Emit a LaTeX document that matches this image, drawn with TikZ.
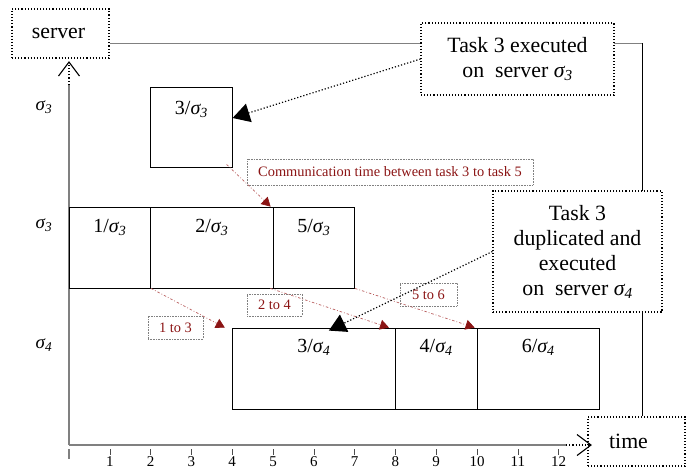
\documentclass[tikz,border=0pt]{standalone}
\usepackage{fontspec}
\setmainfont{Liberation Serif}
\usetikzlibrary{arrows.meta}
\definecolor{dred}{RGB}{139,20,20}
\definecolor{lred}{RGB}{185,95,95}
\definecolor{axgray}{RGB}{128,128,128}
\newcommand\sg[1]{\textit{σ\textsubscript{#1}}}
\newcommand\fbig{\fontsize{21.8}{25}\selectfont}
\newcommand\ftask{\fontsize{20}{22}\selectfont}
\begin{document}
\begin{tikzpicture}[x=1pt,y=-1pt,
  taskbox/.style={draw, line width=0.8pt, fill=white, inner sep=0pt},
  tlbl/.style={anchor=center, yshift=-21pt, font=\ftask, inner sep=0pt},
  annbox/.style={draw, dotted, line width=1.1pt, fill=white, inner sep=0pt, align=center, font=\fbig},
  redbox/.style={draw=axgray, densely dotted, line width=0.6pt, inner sep=0pt, text=dred, font=\fontsize{14.4}{16}\selectfont},
  comm/.style={lred, line width=0.7pt, dash pattern=on 2.5pt off 2pt on 0.8pt off 2pt, -{Triangle[length=9pt,width=10pt,color=dred]}},
  annarrow/.style={dotted, line width=1.2pt, -{Triangle[length=17pt,width=19pt]}},
  axlbl/.style={font=\fontsize{19}{20}\selectfont, inner sep=0pt},
  ticklbl/.style={font=\fontsize{15}{16}\selectfont, inner sep=0pt, anchor=base}
]
\useasboundingbox (0,0) rectangle (692,469);

% frame line from server box to time box
\node[annbox, minimum width=97, minimum height=49] (server) at (60.5,33.5) {server\hspace{4pt}};
\node[annbox, minimum width=97, minimum height=49] (timebox) at (636.5,441.5) {time\hspace{16pt}};
\coordinate (corner) at (642,43);
\draw[axgray, line width=1pt] ([yshift=-9.5pt]server.east) -- (corner);
\draw[line width=0.8pt] (corner) -- (corner |- timebox.north);

% axes
\coordinate (origin) at (69,445);
\coordinate (ymid) at (69,85);
\coordinate (ytop) at (69,62);
\coordinate (xmid) at (566,445);
\coordinate (xend) at (591,445);
\draw[axgray, line width=1.5pt] (origin) -- (ymid);
\draw[dotted, line width=1.2pt] (ymid) -- (ytop);
\draw[axgray, line width=1.5pt] (origin) -- (xmid);
\draw[dotted, line width=1.2pt] (xmid) -- (xend);
\draw[line width=1.1pt] ([shift={(-10.5,14)}]ytop) -- (ytop) -- ([shift={(10.5,14)}]ytop);
\draw[line width=1.1pt] ([shift={(-14,-10.5)}]xend) -- (xend) -- ([shift={(-14,10.5)}]xend);

% ticks
\draw[axgray, line width=1.2pt] (69,449) -- (69,459);
\foreach \t in {1,...,12}{
  \node[ticklbl] (tk\t) at ({69+40.8*\t},466) {\t};
  \draw[black!70, line width=0.6pt] ({69+40.8*\t},449) -- ({69+40.8*\t},455);
}

% y labels
\node[axlbl] (ya) at (44,107) {\sg3};
\node[axlbl] (yb) at (44,225) {\sg3};
\node[axlbl] (yc) at (44,345) {\sg4};

% task boxes
\node[taskbox, minimum width=81.6, minimum height=80, label={[tlbl, yshift=-2pt]north:{3/\sg3}}] (b33) at (191.4,127) {};
\node[taskbox, minimum width=81.6, minimum height=81, label={[tlbl]north:{1/\sg3}}] (b13) at (109.8,247.5) {};
\node[taskbox, minimum width=122.4, minimum height=81, label={[tlbl]north:{2/\sg3}}] (b23) at (211.8,247.5) {};
\node[taskbox, minimum width=81.6, minimum height=81, label={[tlbl]north:{5/\sg3}}] (b53) at (313.8,247.5) {};
\node[taskbox, minimum width=163.2, minimum height=81, label={[tlbl, yshift=1pt]north:{3/\sg4}}] (b34) at (313.8,368.5) {};
\node[taskbox, minimum width=81.6, minimum height=81, label={[tlbl, yshift=1pt]north:{4/\sg4}}] (b44) at (436.2,368.5) {};
\node[taskbox, minimum width=122.4, minimum height=81, label={[tlbl, yshift=1pt]north:{6/\sg4}}] (b64) at (538.2,368.5) {};

% red communication labels
\node[redbox, minimum width=286, minimum height=26] (lc35) at (390,172) {Communication time between task 3 to task 5};
\node[redbox, minimum width=55, minimum height=23] (l13) at (175.5,327.5) {1 to 3};
\node[redbox, minimum width=55, minimum height=22] (l24) at (274.5,305) {2 to 4};
\node[redbox, minimum width=57, minimum height=23] (l56) at (428.5,294.5) {5 to 6};

% communication arrows
\draw[comm] ([xshift=-6pt,yshift=3pt]b33.south east) -- ([xshift=-2pt]b53.north west);
\draw[comm] (b13.south east) -- ([xshift=-7pt]b34.north west);
\draw[comm] ([xshift=-3pt]b23.south east) -- ([xshift=-6pt]b44.north west);
\draw[comm] (b53.south east) -- ([xshift=-2pt]b64.north west);

% annotation boxes
\node[annbox, minimum width=193, minimum height=72] (ann1) at (517.5,59) {Task 3 executed\\on\ \ server \sg3};
\node[annbox, minimum width=169, minimum height=121] (ann2) at (577.5,251.5) {Task 3\\duplicated and\\executed\\on\ \ server \sg4};

\draw[annarrow] (ann1.west) -- ([yshift=9pt]b33.east);
\draw[annarrow] (ann2.west) -- ([xshift=15pt,yshift=-3pt]b34.north);
\end{tikzpicture}
\end{document}
